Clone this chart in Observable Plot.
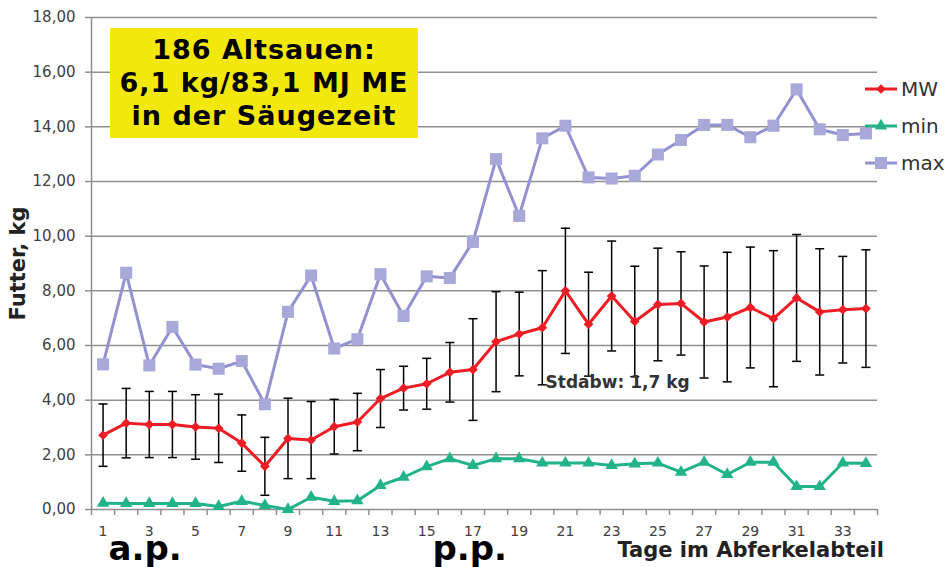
<!DOCTYPE html>
<html><head><meta charset="utf-8">
<script src="https://cdn.jsdelivr.net/npm/d3@7"></script>
<script src="https://cdn.jsdelivr.net/npm/@observablehq/plot@0.6"></script>
<style>
html,body{margin:0;padding:0;background:#fff;}
#wrap{position:relative;width:949px;height:567px;font-family:"DejaVu Sans",sans-serif;overflow:hidden;}
#wrap > svg{position:absolute;left:0;top:0;}
#box{position:absolute;left:110px;top:28px;width:308px;height:110px;background:#f3e80c;text-align:center;font-weight:bold;font-size:27px;letter-spacing:1px;line-height:33px;color:#000;box-sizing:border-box;padding-top:5px;}
#legend{position:absolute;left:863px;top:70px;}
#legend .row{display:flex;align-items:center;height:37px;font-size:20px;color:#333;}
#legend .row svg{display:block;}
</style></head><body><div id="wrap"></div>
<script>
// ---- data ----
const days = [1,2,3,4,5,6,7,8,9,10,11,12,13,14,15,16,17,18,19,20,21,22,23,24,25,26,27,28,29,30,31,32,33,34];
const mwValues = [2.72,3.16,3.11,3.11,3.02,2.97,2.43,1.58,2.60,2.54,3.03,3.20,4.06,4.44,4.60,5.02,5.12,6.14,6.42,6.65,8.00,6.78,7.81,6.88,7.50,7.54,6.86,7.04,7.39,6.98,7.74,7.23,7.31,7.35];
const sdValues = [1.14,1.27,1.21,1.21,1.18,1.25,1.03,1.06,1.47,1.41,1.00,1.05,1.06,0.80,0.93,1.09,1.86,1.83,1.53,2.09,2.29,1.90,2.01,2.02,2.06,1.89,2.05,2.37,2.21,2.49,2.32,2.31,1.95,2.15];
const minValues = [0.23,0.22,0.22,0.22,0.22,0.11,0.30,0.15,0.00,0.45,0.30,0.32,0.88,1.18,1.57,1.86,1.61,1.86,1.86,1.70,1.70,1.70,1.61,1.67,1.70,1.37,1.73,1.28,1.73,1.73,0.84,0.84,1.70,1.69];
const maxValues = [5.31,8.66,5.27,6.68,5.30,5.15,5.43,3.85,7.23,8.56,5.89,6.23,8.61,7.08,8.53,8.47,9.79,12.82,10.74,13.58,14.04,12.15,12.11,12.21,12.99,13.52,14.07,14.07,13.62,14.04,15.37,13.91,13.70,13.76];
const yTicks = [0,2,4,6,8,10,12,14,16,18];
const xTickLabels = [1,3,5,7,9,11,13,15,17,19,21,23,25,27,29,31,33];
const seriesNames = ["MW","min","max"];
const boxLines = ["186 Altsauen:","6,1 kg/83,1 MJ ME","in der Säugezeit"];
const yTitle = "Futter, kg";
const xTitle = "Tage im Abferkelabteil";
const phaseLabels = ["a.p.","p.p."];
const sdNote = "Stdabw: 1,7 kg";

// ---- styles ----
const red = "#ee1d25", green = "#22b38b", purpleLine = "#9292d0", purpleSq = "#a9a9d9";
const gridColor = "#909090";

const data = days.map((d,i)=>({day:d, mw:mwValues[i], sd:sdValues[i], min:minValues[i], max:maxValues[i]}));
const xBounds = days.map(d=>d-0.5).concat([days[days.length-1]+0.5]);
const capSymbol = {draw(ctx,size){const w=Math.sqrt(size/Math.PI); ctx.moveTo(-w,0); ctx.lineTo(w,0);}};
const fmt = v => v.toFixed(2).replace(".", ",");

const chart = Plot.plot({
  width:949, height:567, marginLeft:91, marginRight:72, marginTop:17, marginBottom:58,
  style:{fontFamily:'"DejaVu Sans", sans-serif', background:"transparent", overflow:"visible"},
  x:{type:"linear", domain:[0.5,34.5]},
  y:{domain:[0,18]},
  marks:[
    Plot.gridY(yTicks,{stroke:gridColor, strokeOpacity:1, strokeWidth:1.5}),
    Plot.ruleX([0.5],{stroke:gridColor, strokeWidth:1.5}),
    Plot.axisY(yTicks,{tickFormat:fmt, tickSize:6, tickPadding:10, fontSize:15, fill:"#404040", stroke:gridColor, strokeWidth:1.5, label:null}),
    Plot.axisX(xBounds,{tickFormat:()=>"", tickSize:6, stroke:gridColor, strokeWidth:1.5, label:null}),
    Plot.axisX(xTickLabels,{tickSize:0, tickPadding:17, fontSize:14, fill:"#404040", label:null}),
    Plot.ruleX(data,{x:"day", y1:d=>d.mw-d.sd, y2:d=>d.mw+d.sd, stroke:"#000", strokeWidth:1.5}),
    Plot.dot(data,{x:"day", y:d=>d.mw+d.sd, symbol:capSymbol, r:4.5, stroke:"#000", fill:"none", strokeWidth:1.5}),
    Plot.dot(data,{x:"day", y:d=>d.mw-d.sd, symbol:capSymbol, r:4.5, stroke:"#000", fill:"none", strokeWidth:1.5}),
    Plot.line(data,{x:"day", y:"mw", stroke:red, strokeWidth:3}),
    Plot.dot(data,{x:"day", y:"mw", symbol:"diamond2", r:4.4, fill:red}),
    Plot.line(data,{x:"day", y:"min", stroke:green, strokeWidth:3}),
    Plot.dot(data,{x:"day", y:"min", symbol:"triangle", r:4.6, fill:green}),
    Plot.line(data,{x:"day", y:"max", stroke:purpleLine, strokeWidth:3}),
    Plot.dot(data,{x:"day", y:"max", symbol:"square", r:6.8, fill:purpleSq}),
    Plot.text([sdNote],{text:d=>d, x:20.14, y:4.65, textAnchor:"start", fontSize:17, fontWeight:"bold", fill:"#333"}),
    Plot.text([yTitle],{text:d=>d, frameAnchor:"left", textAnchor:"middle", dx:-73, rotate:-90, fontSize:21, fontWeight:"bold", fill:"#222"}),
    Plot.text([phaseLabels[0]],{text:d=>d, x:1.24, frameAnchor:"bottom", dy:50, textAnchor:"start", fontSize:34, fontWeight:"bold", fill:"#000"}),
    Plot.text([phaseLabels[1]],{text:d=>d, x:15.25, frameAnchor:"bottom", dy:50, textAnchor:"start", fontSize:34, fontWeight:"bold", fill:"#000"}),
    Plot.text([xTitle],{text:d=>d, x:23.25, frameAnchor:"bottom", dy:47, textAnchor:"start", fontSize:21, fontWeight:"bold", fill:"#222", letterSpacing:"1px"})
  ]
});

const wrap = document.getElementById("wrap");
wrap.appendChild(chart);

// yellow info box
const box = document.createElement("div");
box.id = "box";
box.innerHTML = boxLines.map(s=>`<div>${s}</div>`).join("");
wrap.appendChild(box);

// legend
const legend = document.createElement("div");
legend.id = "legend";
const styles = {
  MW:{stroke:red, fill:red, symbol:d3.symbolDiamond2, size:60},
  min:{stroke:green, fill:green, symbol:d3.symbolTriangle, size:66},
  max:{stroke:purpleLine, fill:purpleSq, symbol:d3.symbolSquare, size:145}
};
seriesNames.forEach(name=>{
  const s = styles[name];
  const row = document.createElement("div");
  row.className = "row";
  const path = d3.symbol(s.symbol, s.size)();
  row.innerHTML = `<svg width="38" height="20"><line x1="2" x2="34" y1="10" y2="10" stroke="${s.stroke}" stroke-width="3"/><path transform="translate(18,10)" d="${path}" fill="${s.fill}"/></svg><span>${name}</span>`;
  legend.appendChild(row);
});
wrap.appendChild(legend);
</script></body></html>
